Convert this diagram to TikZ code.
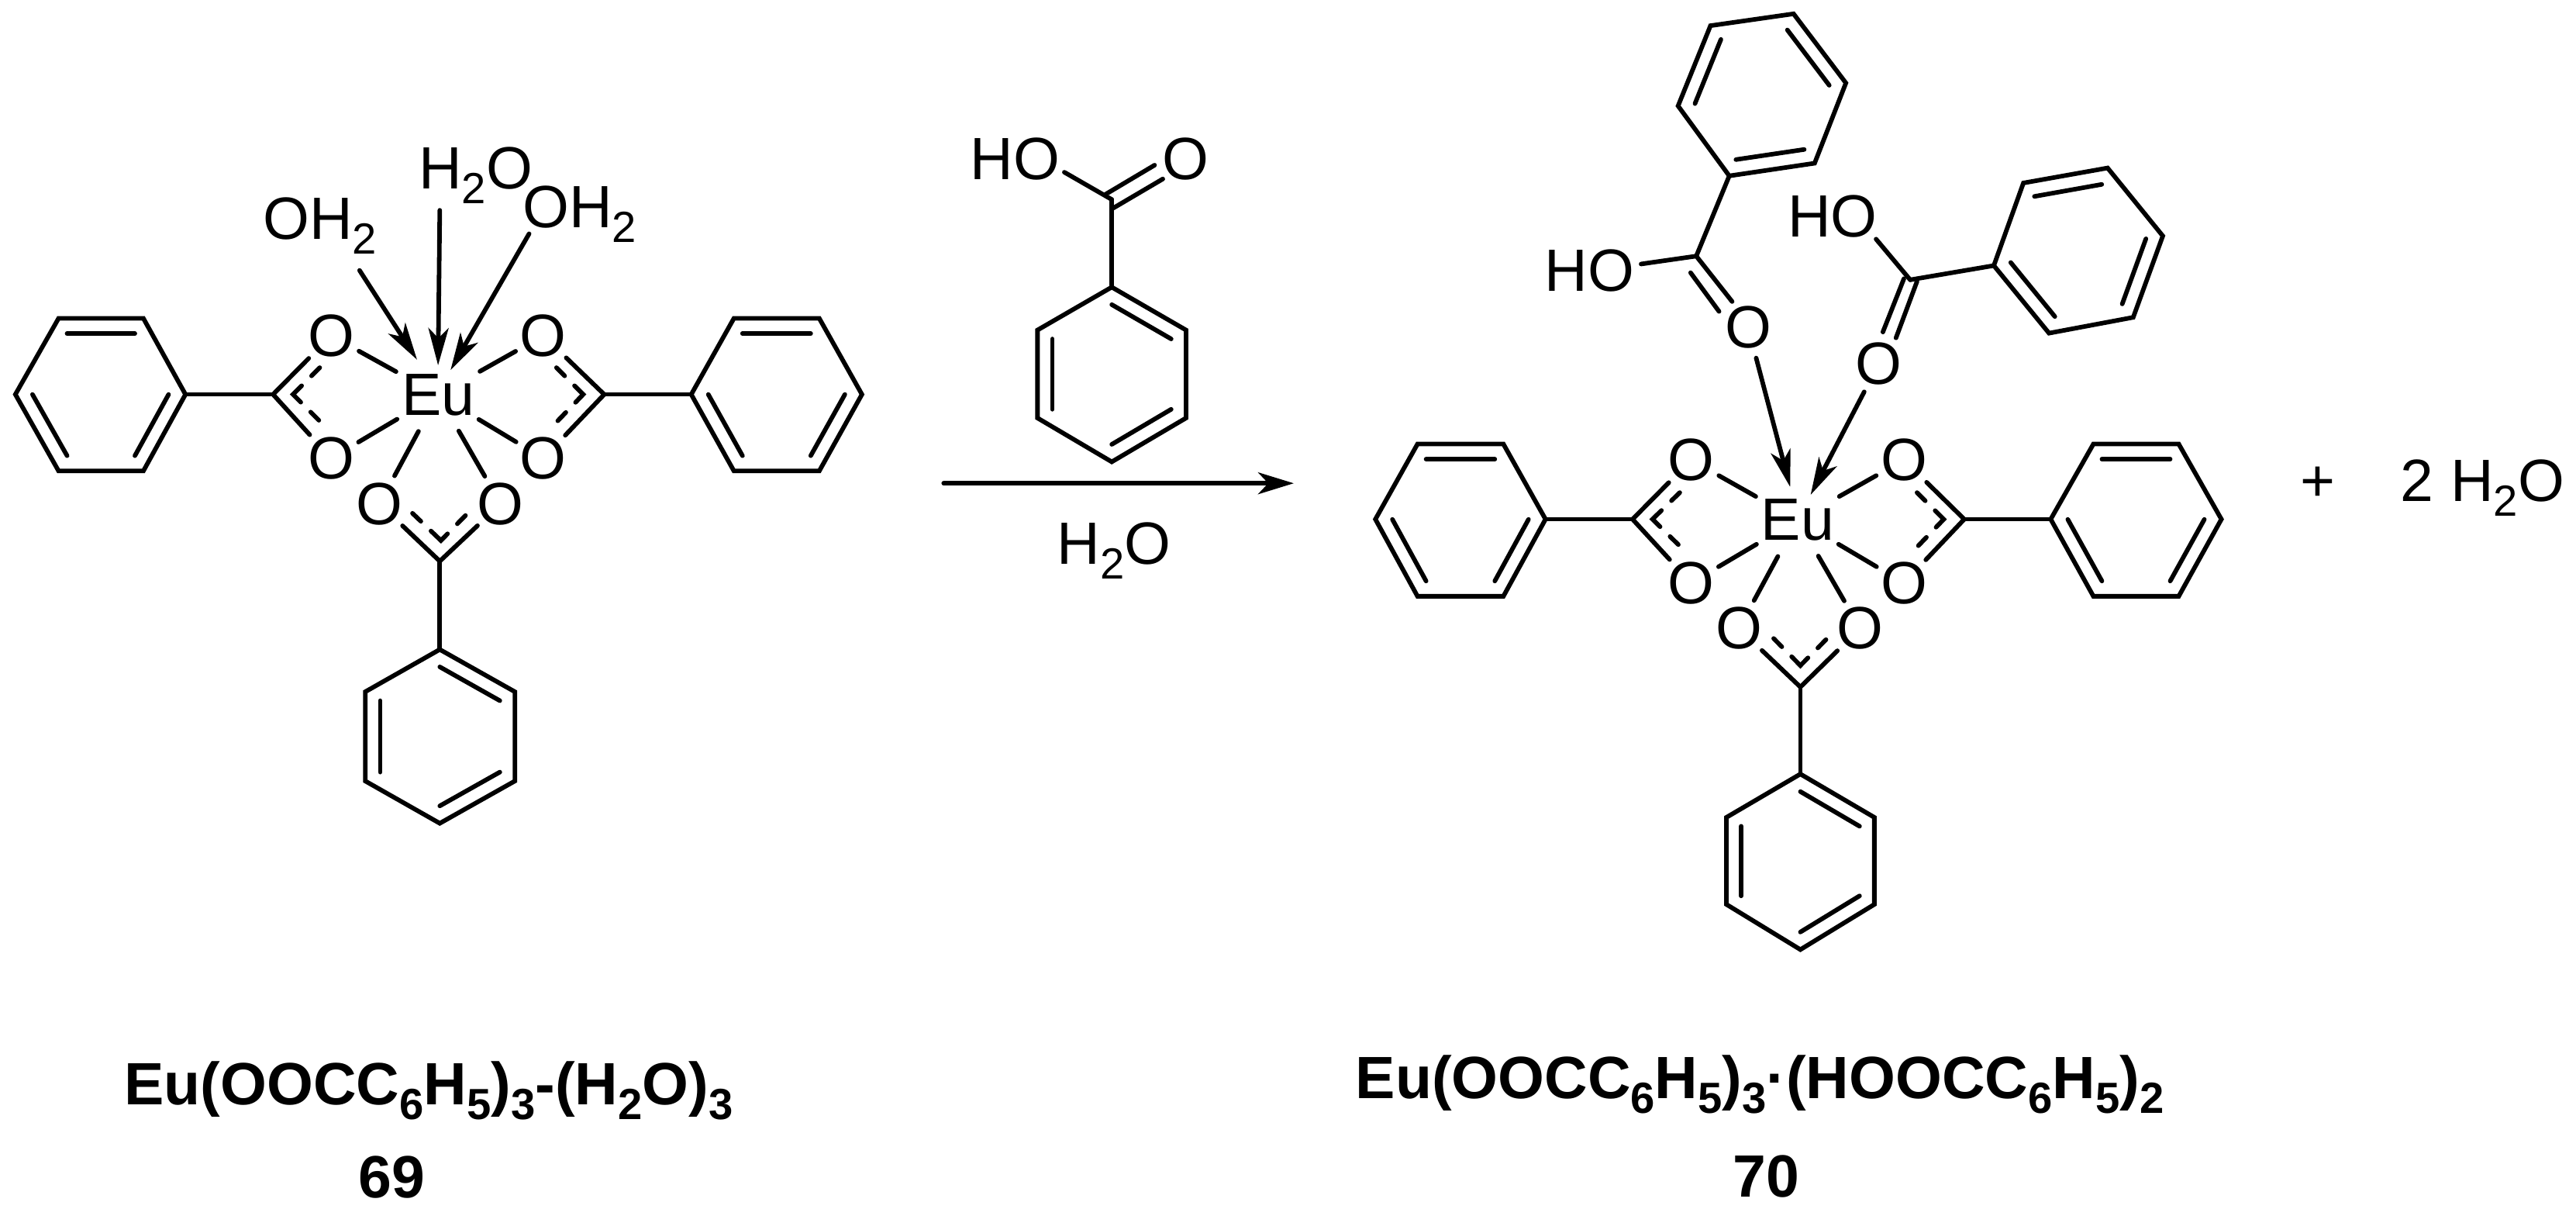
\documentclass[tikz,border=0pt]{standalone}
\usepackage{fontspec}
\setmainfont{Liberation Sans}
\usetikzlibrary{arrows.meta,calc,shapes.geometric}
\newcommand\subs[1]{\raisebox{-.19cm}{\fontsize{16}{18}\selectfont #1}}
\newcommand\phring[7]{%
  \coordinate (#1a) at (#2);\coordinate (#1b) at (#3);\coordinate (#1c) at (#4);
  \coordinate (#1d) at (#5);\coordinate (#1e) at (#6);\coordinate (#1f) at (#7);
  \coordinate (#1o) at ($(#1a)!.5!(#1d)$);
  \draw[bond] (#1a)--(#1b)--(#1c)--(#1d)--(#1e)--(#1f)--cycle;
  \draw[bond] ($(#1a)!.2!(#1o)$)--($(#1b)!.2!(#1o)$);
  \draw[bond] ($(#1c)!.2!(#1o)$)--($(#1d)!.2!(#1o)$);
  \draw[bond] ($(#1e)!.2!(#1o)$)--($(#1f)!.2!(#1o)$);
}
\newcommand\carbox[7]{%
  \coordinate (#1c) at (#2);\coordinate (#1x) at (#3);
  \coordinate (#1p) at (#4);\coordinate (#1q) at (#5);
  \draw[bond] (#1c)--(#6);
  \draw[bond] (#1c)--(#7);
  \draw[resonance] (#1p)--(#1x)--(#1q);
}
\tikzset{
  bond/.style={line width=.058cm,line cap=round,line join=miter},
  resonance/.style={bond,dash pattern=on .15cm off .18cm on .3cm off .18cm on .15cm},
  dative/.style={bond,-{Stealth[length=.48cm,width=.26cm,inset=.13cm]}},
  rxnarrow/.style={bond,-{Stealth[length=.46cm,width=.28cm,inset=.13cm]}},
  atom/.style={circle,inner sep=0pt,minimum size=.8cm,font=\fontsize{21.9}{26}\selectfont},
  metal/.style={ellipse,inner sep=0pt,minimum width=1.3cm,minimum height=1cm,font=\fontsize{21.9}{26}\selectfont},
  chem/.style={anchor=base west,inner sep=0pt,font=\fontsize{21.9}{26}\selectfont},
  caption/.style={inner sep=0pt,font=\fontsize{21.9}{26}\selectfont\bfseries},
  left mol/.style={x=.007334cm,y=-.006059cm,shift={(0cm,-1.5cm)}},
  acid mol/.style={x=.003333cm,y=-.003954cm,shift={(12cm,-1.3cm)}},
  right top/.style={x=.007334cm,y=-.005102cm,shift={(17.5cm,0cm)}},
  right low/.style={x=.007334cm,y=-.004783cm,shift={(17.5cm,-5cm)}},
  pixel/.style={x=.01cm,y=-.01cm}
}
\begin{document}
\begin{tikzpicture}
\useasboundingbox (0,0) rectangle (33.23,-15.68);
% ---------- compound 69 ----------
\begin{scope}[left mol]
  \node[metal] (eua) at (770,593) {Eu};
  \node[atom] (a1) at (582,467) {O};
  \node[atom] (a2) at (582,728) {O};
  \node[atom] (a3) at (955,467) {O};
  \node[atom] (a4) at (955,728) {O};
  \node[atom] (a5) at (667,825) {O};
  \node[atom] (a6) at (880,825) {O};
  \foreach \n in {a1,a2,a3,a4,a5,a6} \draw[bond] (eua)--(\n);
  \phring{AL}{103,430}{252,430}{326,592}{252,755}{103,755}{27,592}
  \phring{AR}{1290,430}{1440,430}{1515,592}{1440,755}{1290,755}{1215,592}
  \phring{AB}{773,1135}{905,1225}{905,1415}{773,1505}{642,1415}{642,1225}
  \carbox{cal}{480,592}{515,592}{562,535}{567,655}{a1}{a2}
  \carbox{car}{1062,592}{1025,592}{978,535}{975,655}{a3}{a4}
  \carbox{cab}{773,947}{775,903}{725,845}{822,845}{a5}{a6}
  \draw[bond] (calc)--(ALc);
  \draw[bond] (carc)--(ARf);
  \draw[bond] (cabc)--(ABa);
  \coordinate (w1s) at (632,328); \coordinate (w1e) at (733,518);
  \coordinate (w2s) at (773,200); \coordinate (w2e) at (770,530);
  \coordinate (w3s) at (930,250); \coordinate (w3e) at (792,540);
  \draw[dative] (w1s)--(w1e);
  \draw[dative] (w2s)--(w2e);
  \draw[dative] (w3s)--(w3e);
\end{scope}
% ---------- benzoic acid and reaction arrow ----------
\begin{scope}[acid mol]
  \phring{G}{704,608}{992,748}{992,1035}{704,1178}{416,1035}{416,748}
  \coordinate (gc) at (704,322);
  \coordinate (gh) at (520,233);
  \coordinate (gd1) at (680,305); \coordinate (gd2) at (870,210);
  \coordinate (gd3) at (710,350); \coordinate (gd4) at (902,255);
  \draw[bond] (gc)--(Ga);
  \draw[bond] (gc)--(gh);
  \draw[bond] (gd1)--(gd2);
  \draw[bond] (gd3)--(gd4);
  \coordinate (rs) at (52,1248); \coordinate (re) at (1410,1248);
  \draw[rxnarrow] (rs)--(re);
\end{scope}
% ---------- compound 70, upper part ----------
\begin{scope}[right top]
  \node[atom] (b7) at (688,828) {O};
  \node[atom] (b8) at (918,920) {O};
  \phring{BT}{622,65}{565,268}{655,445}{805,413}{860,210}{768,35}
  \phring{BS}{1172,463}{1320,425}{1417,597}{1365,803}{1217,843}{1120,672}
  \coordinate (c1) at (597,648);
  \coordinate (c1h) at (500,668);
  \coordinate (c1a) at (660,763); \coordinate (c1b) at (587,690); \coordinate (c1d) at (637,788);
  \draw[bond] (c1)--(BTc);
  \draw[bond] (c1)--(c1h);
  \draw[bond] (c1)--(c1a);
  \draw[bond] (c1b)--(c1d);
  \coordinate (c2) at (973,708);
  \coordinate (c2h) at (913,605);
  \coordinate (c2a) at (985,712); \coordinate (c2b) at (948,855);
  \coordinate (c2d) at (962,705); \coordinate (c2e) at (925,840);
  \draw[bond] (c2)--(BSf);
  \draw[bond] (c2)--(c2h);
  \draw[bond] (c2a)--(c2b);
  \draw[bond] (c2d)--(c2e);
  \coordinate (t7) at (762,1232); \coordinate (t8) at (798,1252);
  \draw[dative] (b7)--(t7);
  \draw[dative] (b8)--(t8);
\end{scope}
% ---------- compound 70, lower part ----------
\begin{scope}[right low]
  \node[metal] (eub) at (775,357) {Eu};
  \node[atom] (b1) at (588,195) {O};
  \node[atom] (b2) at (588,527) {O};
  \node[atom] (b3) at (962,195) {O};
  \node[atom] (b4) at (962,527) {O};
  \node[atom] (b5) at (672,650) {O};
  \node[atom] (b6) at (885,650) {O};
  \foreach \n in {b1,b2,b3,b4,b5,b6} \draw[bond] (eub)--(\n);
  \phring{BL}{107,152}{258,152}{332,355}{258,563}{107,563}{33,355}
  \phring{BR}{1295,152}{1445,152}{1520,355}{1445,563}{1295,563}{1220,355}
  \phring{BB}{780,1043}{910,1160}{910,1395}{780,1517}{650,1395}{650,1160}
  \carbox{cbl}{485,355}{520,355}{568,283}{573,435}{b1}{b2}
  \carbox{cbr}{1068,355}{1032,355}{985,283}{982,435}{b3}{b4}
  \carbox{cbb}{780,808}{780,750}{733,677}{827,677}{b5}{b6}
  \draw[bond] (cblc)--(BLc);
  \draw[bond] (cbrc)--(BRf);
  \draw[bond] (cbbc)--(BBa);
\end{scope}
% ---------- text labels ----------
\begin{scope}[pixel]
  \node[chem] (l1) at (339,309) {OH\subs{2}};
  \node[chem] (l2) at (540,244) {H\subs{2}O};
  \node[chem] (l3) at (674,294) {OH\subs{2}};
  \node[chem] (l4) at (1252,232) {HO};
  \node[chem] (l5) at (1500,232) {O};
  \node[chem] (l6) at (1364,728) {H\subs{2}O};
  \node[chem] (l7) at (1993,376) {HO};
  \node[chem] (l8) at (2307,306) {HO};
  \node[chem] (l9) at (2968,647) {+};
  \node[chem] (l10) at (3098,647) {2 H\subs{2}O};
  \node[caption,anchor=base west] (n1) at (160,1425)
    {Eu(OOCC\subs{6}H\subs{5})\subs{3}-(H\subs{2}O)\subs{3}};
  \node[caption,anchor=base] (n2) at (506,1545) {69};
  \node[caption,anchor=base west] (n3) at (1749,1417)
    {Eu(OOCC\subs{6}H\subs{5})\subs{3}·(HOOCC\subs{6}H\subs{5})\subs{2}};
  \node[caption,anchor=base] (n4) at (2280,1544) {70};
\end{scope}
\end{tikzpicture}
\end{document}
